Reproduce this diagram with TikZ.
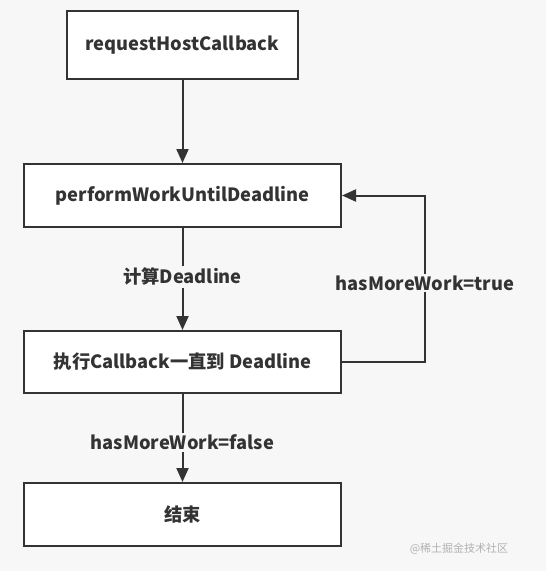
\documentclass[tikz,border=0pt]{standalone}
\usepackage{fontspec}
\setmainfont{Noto Sans CJK SC}
\usetikzlibrary{arrows.meta}
\definecolor{bgcol}{HTML}{F7F7F7}
\definecolor{edge}{HTML}{333333}
\tikzset{
  box/.style={draw=edge, fill=white, line width=2pt, minimum height=63pt,
    font=\fontsize{18.3}{21}\selectfont\bfseries, text=edge},
  flow/.style={draw=edge, line width=2pt, -{Triangle[length=14pt,width=12pt]}},
  tag/.style={fill=bgcol, inner sep=2pt, font=\fontsize{18.3}{21}\selectfont\bfseries, text=edge}
}
\begin{document}
\begin{tikzpicture}[x=1pt, y=-1pt]
            \fill[bgcol] (0, 0) rectangle (546, 571);
            \useasboundingbox (0, 0) rectangle (546, 571);

            \node[box, minimum width=231pt, minimum height=68pt] (request) at (182.5, 45) {requestHostCallback};
            \node[box, minimum width=317pt] (perform) at (182.5, 195.5) {performWorkUntilDeadline};
            \node[box, minimum width=317pt, minimum height=62pt] (exec) at (182.5, 362) {执行Callback一直到 Deadline};
            \node[box, minimum width=317pt] (done) at (182.5, 514.5) {结束};

            \coordinate (turn) at (425, 283);

            \draw[flow] (request) -- (perform);
            \draw[flow] (perform) -- node[tag, pos=0.48] (calc) {计算Deadline} (exec);
            \draw[flow] (exec) -- node[tag, pos=0.55] (falsetag) {hasMoreWork=false} (done);
            \draw[flow] (exec.east) -- (exec.east -| turn) -- (perform.east -| turn) -- (perform.east);
            \node[tag] (truetag) at (turn) {hasMoreWork=true};

            \node[text=black!30, font=\fontsize{11}{13}\selectfont] (mark) at (459, 549) {@稀土掘金技术社区};
        \end{tikzpicture}
\end{document}
